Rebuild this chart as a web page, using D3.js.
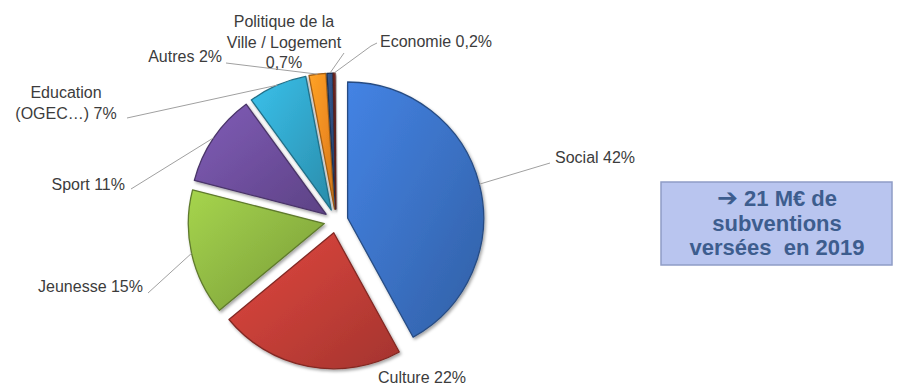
<!DOCTYPE html>
<html>
<head>
<meta charset="utf-8">
<script src="https://cdn.jsdelivr.net/npm/d3@7"></script>
<style>
  body { margin: 0; background: #fff; }
  text { font-family: "Liberation Sans", Arial, sans-serif; }
</style>
</head>
<body>
<svg id="chart" width="901" height="385"></svg>
<script>
// Répartition des subventions 2019 par domaine (en % du total)
const categories = ["Social", "Culture", "Jeunesse", "Sport", "Education", "Autres", "Politique", "Economie"];
const shares = [42, 22, 15, 11, 7, 2, 0.7, 0.2];
// Libellés affichés (le pourcentage est ajouté à la dernière ligne)
const nameLines = [
  ["Social"], ["Culture"], ["Jeunesse"], ["Sport"],
  ["Education", "(OGEC…)"], ["Autres"],
  ["Politique de la", "Ville / Logement", ""], ["Economie"]
];
const baseColors = ["#3a70c2", "#c03d36", "#8db542", "#6d4e9c", "#31a4c8", "#ee8b20", "#2c4c7c", "#8a302c"];
const calloutArrow = "➔";
const calloutLines = ["21 M€ de", "subventions", "versées  en 2019"];

const W = 901, H = 385;
const cx = 336, cy = 221, R = 136, explode = 12;

// Position des étiquettes et coude des traits de rappel
const labelLayout = [
  { x: 555, y: 162.5, anchor: "start",  lead: [[550, 163]] },
  { x: 378, y: 383,   anchor: "start",  lead: null },
  { x: 143, y: 292,   anchor: "end",    lead: [[148, 293]] },
  { x: 125, y: 189.5, anchor: "end",    lead: [[131, 189]] },
  { x: 66,  y: 98,    anchor: "middle", lead: [[127, 118]], dy: 20.5 },
  { x: 222, y: 62,    anchor: "end",    lead: [[226, 63]] },
  { x: 284, y: 27,    anchor: "middle", lead: [[344, 53]], dy: 20.5 },
  { x: 380, y: 47,    anchor: "start",  lead: [[377, 43], [371, 46]] }
];

const fmt = d3.formatLocale({ decimal: ",", thousands: " ", grouping: [3], currency: ["", "€"] }).format("~g");

const svg = d3.select("#chart");
const defs = svg.append("defs");

defs.append("filter").attr("id", "shadow")
  .attr("x", "-20%").attr("y", "-20%").attr("width", "140%").attr("height", "140%")
  .append("feDropShadow")
  .attr("dx", 1.5).attr("dy", 2).attr("stdDeviation", 1.8)
  .attr("flood-color", "#000").attr("flood-opacity", 0.35);

baseColors.forEach((c, i) => {
  const g = defs.append("linearGradient").attr("id", "grad" + i)
    .attr("x1", "0%").attr("y1", "0%").attr("x2", "100%").attr("y2", "100%");
  g.append("stop").attr("offset", "0%").attr("stop-color", d3.color(c).brighter(0.45));
  g.append("stop").attr("offset", "55%").attr("stop-color", c);
  g.append("stop").attr("offset", "100%").attr("stop-color", d3.color(c).darker(0.45));
});

const total = d3.sum(shares);
const pie = d3.pie().sort(null).value(d => d)
  .startAngle(0).endAngle(2 * Math.PI * total / 100);
const arcs = pie(shares);
const arc = d3.arc().innerRadius(0).outerRadius(R);

const mid = a => (a.startAngle + a.endAngle) / 2;
const offset = a => [Math.sin(mid(a)) * explode, -Math.cos(mid(a)) * explode];

const chart = svg.append("g").attr("transform", `translate(${cx},${cy})`);

// Secteurs éclatés
chart.selectAll("path.slice")
  .data(arcs)
  .join("path")
  .attr("class", "slice")
  .attr("transform", d => `translate(${offset(d)})`)
  .attr("d", arc)
  .attr("fill", (d, i) => `url(#grad${i})`)
  .attr("stroke", (d, i) => d3.color(baseColors[i]).darker(1.1))
  .attr("stroke-width", 1.3)
  .attr("stroke-linejoin", "round")
  .attr("filter", "url(#shadow)");

// Traits de rappel
const line = d3.line();
arcs.forEach((a, i) => {
  const L = labelLayout[i];
  if (!L.lead) return;
  const o = offset(a);
  const edge = [cx + o[0] + Math.sin(mid(a)) * R, cy + o[1] - Math.cos(mid(a)) * R];
  svg.append("path")
    .attr("d", line([edge, ...L.lead.slice().reverse()]))
    .attr("fill", "none")
    .attr("stroke", "#a0a0a0")
    .attr("stroke-width", 1);
});

// Étiquettes
arcs.forEach((a, i) => {
  const L = labelLayout[i];
  const lines = nameLines[i].slice();
  const last = lines.length - 1;
  lines[last] = (lines[last] ? lines[last] + " " : "") + fmt(shares[i]) + "%";
  const t = svg.append("text")
    .attr("x", L.x).attr("y", L.y)
    .attr("text-anchor", L.anchor)
    .attr("font-size", 16)
    .attr("fill", "#3c3c3c");
  lines.forEach((s, k) => {
    t.append("tspan").attr("x", L.x).attr("dy", k === 0 ? 0 : (L.dy || 20)).text(s);
  });
});

// Encadré
const box = svg.append("g");
box.append("rect")
  .attr("x", 661).attr("y", 182).attr("width", 231).attr("height", 83)
  .attr("fill", "#b9c5ef").attr("stroke", "#8f9cc6").attr("stroke-width", 1.5);
const boxText = box.selectAll("text")
  .data(calloutLines)
  .join("text")
  .attr("x", 777)
  .attr("y", (d, i) => 206 + i * 24.5)
  .attr("text-anchor", "middle")
  .attr("font-size", 22)
  .attr("font-weight", "bold")
  .attr("fill", "#3d5d8e")
  .attr("xml:space", "preserve")
  .style("white-space", "pre");
boxText.each(function (d, i) {
  const t = d3.select(this);
  if (i === 0) {
    t.append("tspan").attr("font-family", "DejaVu Sans").attr("font-size", 25).text(calloutArrow);
    t.append("tspan").text(" ");
  }
  t.append("tspan").text(d);
});
</script>
</body>
</html>
